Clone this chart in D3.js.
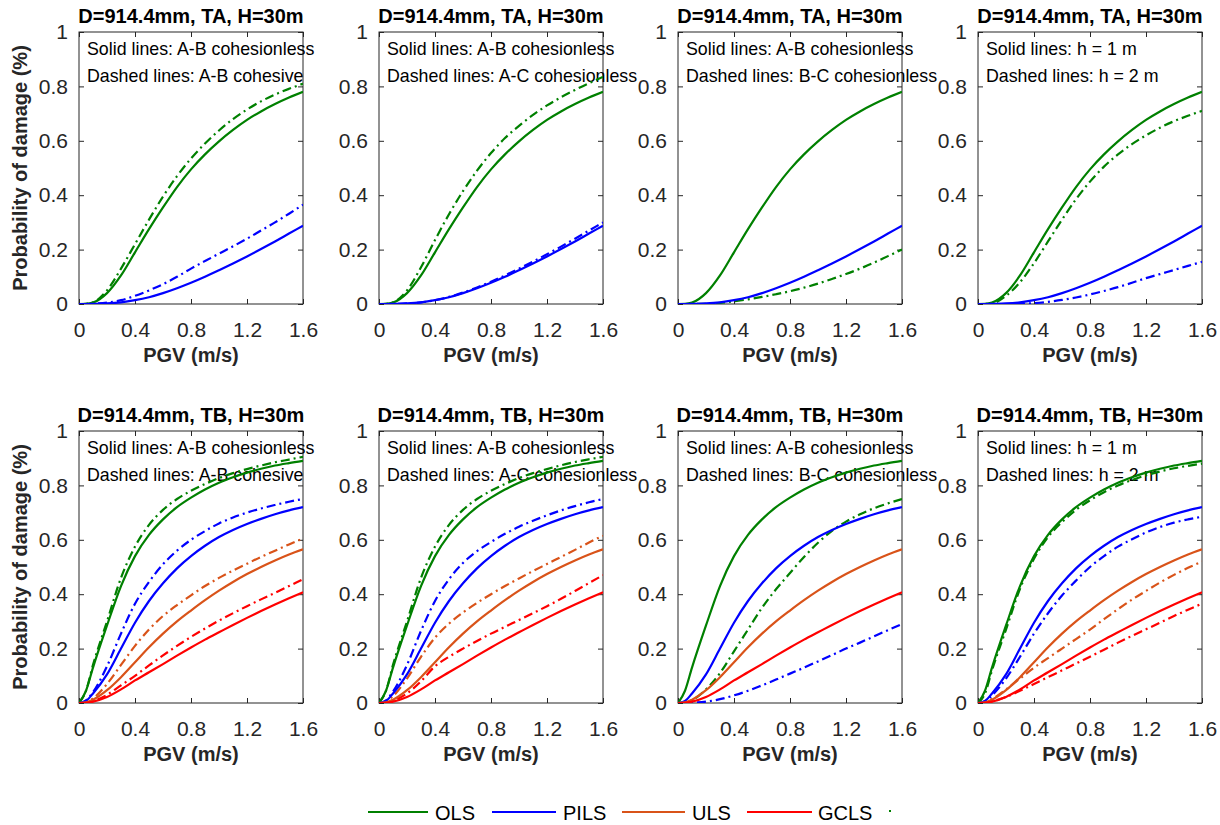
<!DOCTYPE html>
<html>
<head>
<meta charset="utf-8">
<script src="https://cdn.jsdelivr.net/npm/d3@7"></script>
<style>
  html, body { margin: 0; padding: 0; background: #fff; }
  svg { display: block; font-family: "Liberation Sans", Arial, Helvetica, sans-serif; }
</style>
</head>
<body>
<svg id="chart" width="1220" height="825"></svg>
<script>
// ---------------- DATA ----------------
const pgv = [0, 0.05, 0.1, 0.2, 0.3, 0.4, 0.5, 0.6, 0.7, 0.8, 0.9, 1.0, 1.1, 1.2, 1.3, 1.4, 1.5, 1.6];

const xTicks = [0, 0.4, 0.8, 1.2, 1.6];
const xTickLabels = ["0", "0.4", "0.8", "1.2", "1.6"];
const yTicks = [0, 0.2, 0.4, 0.6, 0.8, 1];
const yTickLabels = ["0", "0.2", "0.4", "0.6", "0.8", "1"];

const damageStates = ["OLS", "PILS", "ULS", "GCLS"];

// Top row (TA) - solid lines: A-B cohesionless / h = 1 m
const taOLS_solid  = [0, 0.0005, 0.005, 0.04, 0.105, 0.19, 0.275, 0.355, 0.43, 0.495, 0.55, 0.598, 0.64, 0.677, 0.708, 0.735, 0.759, 0.78];
const taPILS_solid = [0, 0, 0.0005, 0.002, 0.006, 0.014, 0.025, 0.04, 0.058, 0.078, 0.10, 0.124, 0.149, 0.175, 0.202, 0.23, 0.259, 0.288];
// Top row dashed lines
const taOLS_ABcoh  = [0, 0.001, 0.006, 0.05, 0.13, 0.22, 0.31, 0.395, 0.47, 0.535, 0.59, 0.638, 0.68, 0.715, 0.745, 0.77, 0.791, 0.81];
const taPILS_ABcoh = [0, 0, 0.001, 0.005, 0.014, 0.03, 0.05, 0.073, 0.10, 0.13, 0.158, 0.185, 0.212, 0.24, 0.27, 0.30, 0.332, 0.365];
const taOLS_AC     = [0, 0.001, 0.006, 0.05, 0.135, 0.235, 0.33, 0.415, 0.49, 0.555, 0.61, 0.655, 0.695, 0.73, 0.76, 0.787, 0.812, 0.835];
const taPILS_AC    = [0, 0, 0.0005, 0.002, 0.006, 0.014, 0.026, 0.042, 0.061, 0.082, 0.105, 0.13, 0.156, 0.183, 0.211, 0.24, 0.27, 0.30];
const taOLS_BC     = [0, 0, 0, 0.001, 0.004, 0.01, 0.017, 0.026, 0.036, 0.047, 0.06, 0.075, 0.092, 0.11, 0.13, 0.152, 0.176, 0.20];
const taOLS_h2     = [0, 0, 0.002, 0.03, 0.08, 0.15, 0.23, 0.31, 0.385, 0.45, 0.505, 0.55, 0.588, 0.62, 0.648, 0.672, 0.692, 0.71];
const taPILS_h2    = [0, 0, 0, 0, 0.001, 0.003, 0.008, 0.015, 0.024, 0.035, 0.048, 0.062, 0.078, 0.095, 0.11, 0.125, 0.14, 0.155];

// Bottom row (TB) - solid lines: A-B cohesionless / h = 1 m
const tbOLS_solid  = [0, 0.045, 0.13, 0.285, 0.43, 0.54, 0.618, 0.675, 0.72, 0.755, 0.785, 0.81, 0.83, 0.847, 0.861, 0.873, 0.882, 0.89];
const tbPILS_solid = [0, 0.008, 0.035, 0.105, 0.2, 0.295, 0.375, 0.44, 0.495, 0.54, 0.578, 0.61, 0.636, 0.658, 0.677, 0.694, 0.708, 0.72];
const tbULS_solid  = [0, 0.002, 0.012, 0.047, 0.095, 0.15, 0.205, 0.255, 0.30, 0.34, 0.378, 0.413, 0.445, 0.474, 0.50, 0.524, 0.546, 0.565];
const tbGCLS_solid = [0, 0.001, 0.005, 0.022, 0.05, 0.083, 0.113, 0.143, 0.174, 0.204, 0.233, 0.26, 0.287, 0.313, 0.338, 0.362, 0.385, 0.407];
// Bottom row dashed lines
const tbOLS_ABcoh  = [0, 0.045, 0.14, 0.30, 0.46, 0.575, 0.655, 0.71, 0.75, 0.78, 0.805, 0.827, 0.845, 0.86, 0.873, 0.885, 0.895, 0.905];
const tbPILS_ABcoh = [0, 0.01, 0.04, 0.135, 0.255, 0.365, 0.445, 0.51, 0.56, 0.60, 0.632, 0.66, 0.682, 0.7, 0.715, 0.728, 0.74, 0.75];
const tbULS_ABcoh  = [0, 0.003, 0.017, 0.07, 0.14, 0.21, 0.27, 0.32, 0.36, 0.396, 0.43, 0.46, 0.487, 0.512, 0.537, 0.56, 0.583, 0.605];
const tbGCLS_ABcoh = [0, 0.001, 0.007, 0.03, 0.065, 0.10, 0.138, 0.175, 0.21, 0.243, 0.274, 0.303, 0.33, 0.356, 0.381, 0.405, 0.43, 0.455];
const tbOLS_AC     = [0, 0.045, 0.14, 0.30, 0.46, 0.575, 0.655, 0.71, 0.75, 0.78, 0.805, 0.827, 0.845, 0.86, 0.874, 0.886, 0.896, 0.905];
const tbPILS_AC    = [0, 0.01, 0.042, 0.14, 0.265, 0.375, 0.455, 0.515, 0.558, 0.592, 0.622, 0.648, 0.67, 0.69, 0.708, 0.724, 0.738, 0.75];
const tbULS_AC     = [0, 0.005, 0.025, 0.09, 0.17, 0.24, 0.292, 0.333, 0.368, 0.40, 0.43, 0.458, 0.485, 0.511, 0.537, 0.563, 0.59, 0.615];
const tbGCLS_AC    = [0, 0.001, 0.008, 0.035, 0.08, 0.135, 0.17, 0.20, 0.228, 0.255, 0.28, 0.305, 0.33, 0.356, 0.383, 0.412, 0.441, 0.47];
const tbOLS_BC     = [0, 0.002, 0.01, 0.05, 0.11, 0.19, 0.27, 0.35, 0.418, 0.478, 0.537, 0.589, 0.633, 0.667, 0.694, 0.716, 0.734, 0.75];
const tbPILS_BC    = [0, 0, 0.001, 0.005, 0.014, 0.028, 0.045, 0.065, 0.086, 0.108, 0.13, 0.153, 0.176, 0.2, 0.222, 0.245, 0.268, 0.29];
const tbOLS_h2     = [0, 0.035, 0.12, 0.27, 0.42, 0.53, 0.61, 0.665, 0.71, 0.745, 0.775, 0.80, 0.82, 0.837, 0.851, 0.863, 0.872, 0.88];
const tbPILS_h2    = [0, 0.006, 0.028, 0.09, 0.17, 0.255, 0.33, 0.395, 0.45, 0.50, 0.54, 0.575, 0.602, 0.627, 0.647, 0.663, 0.675, 0.685];
const tbULS_h2     = [0, 0.004, 0.015, 0.05, 0.09, 0.13, 0.165, 0.20, 0.235, 0.27, 0.308, 0.345, 0.38, 0.412, 0.443, 0.471, 0.497, 0.52];
const tbGCLS_h2    = [0, 0.001, 0.006, 0.022, 0.045, 0.07, 0.095, 0.12, 0.145, 0.17, 0.196, 0.222, 0.247, 0.271, 0.295, 0.32, 0.343, 0.365];

const titlesTop = ["D=914.4mm, TA, H=30m", "D=914.4mm, TA, H=30m", "D=914.4mm, TA, H=30m", "D=914.4mm, TA, H=30m"];
const titlesBottom = ["D=914.4mm, TB, H=30m", "D=914.4mm, TB, H=30m", "D=914.4mm, TB, H=30m", "D=914.4mm, TB, H=30m"];
const notesSolid = ["Solid lines: A-B cohesionless", "Solid lines: A-B cohesionless", "Solid lines: A-B cohesionless", "Solid lines: h = 1 m"];
const notesDashed = ["Dashed lines: A-B cohesive", "Dashed lines: A-C cohesionless", "Dashed lines: B-C cohesionless", "Dashed lines:  h = 2 m"];

// ---------------- STYLE / LAYOUT ----------------
const colors = { OLS: "#008000", PILS: "#0000ff", ULS: "#d95319", GCLS: "#ff0000" };
const lefts = [79, 379, 678, 978];
const tops = [32, 431];
const pw = 224, ph = 272;
const dashPattern = "9,4,2,4";
const axisColor = "#262626";
const lineW = 2.2;

const panels = [];
const topSolid = [{ s: "OLS", v: taOLS_solid }, { s: "PILS", v: taPILS_solid }];
const topDashed = [
  [{ s: "OLS", v: taOLS_ABcoh }, { s: "PILS", v: taPILS_ABcoh }],
  [{ s: "OLS", v: taOLS_AC }, { s: "PILS", v: taPILS_AC }],
  [{ s: "OLS", v: taOLS_BC }],
  [{ s: "OLS", v: taOLS_h2 }, { s: "PILS", v: taPILS_h2 }]
];
const botSolid = [{ s: "OLS", v: tbOLS_solid }, { s: "PILS", v: tbPILS_solid }, { s: "ULS", v: tbULS_solid }, { s: "GCLS", v: tbGCLS_solid }];
const botDashed = [
  [{ s: "OLS", v: tbOLS_ABcoh }, { s: "PILS", v: tbPILS_ABcoh }, { s: "ULS", v: tbULS_ABcoh }, { s: "GCLS", v: tbGCLS_ABcoh }],
  [{ s: "OLS", v: tbOLS_AC }, { s: "PILS", v: tbPILS_AC }, { s: "ULS", v: tbULS_AC }, { s: "GCLS", v: tbGCLS_AC }],
  [{ s: "OLS", v: tbOLS_BC }, { s: "PILS", v: tbPILS_BC }],
  [{ s: "OLS", v: tbOLS_h2 }, { s: "PILS", v: tbPILS_h2 }, { s: "ULS", v: tbULS_h2 }, { s: "GCLS", v: tbGCLS_h2 }]
];
for (let c = 0; c < 4; c++) panels.push({ row: 0, col: c, title: titlesTop[c], solid: topSolid, dashed: topDashed[c] });
for (let c = 0; c < 4; c++) panels.push({ row: 1, col: c, title: titlesBottom[c], solid: botSolid, dashed: botDashed[c] });

const svg = d3.select("#chart");
const defs = svg.append("defs");

panels.forEach((p, i) => {
  const x0 = lefts[p.col], y0 = tops[p.row];
  const x = d3.scaleLinear().domain([0, 1.6]).range([x0, x0 + pw]);
  const y = d3.scaleLinear().domain([0, 1]).range([y0 + ph, y0]);
  const g = svg.append("g");

  defs.append("clipPath").attr("id", "clip" + i)
    .append("rect").attr("x", x0).attr("y", y0).attr("width", pw).attr("height", ph);

  const tickLen = 5;
  g.append("g").attr("transform", `translate(0,${y0 + ph})`)
    .call(d3.axisBottom(x).tickValues(xTicks).tickFormat((d, k) => xTickLabels[k])
      .tickSizeInner(-tickLen).tickSizeOuter(0).tickPadding(18))
    .call(a => a.select(".domain").remove())
    .call(a => a.selectAll("text").attr("font-size", 21).attr("fill", axisColor).attr("font-family", null))
    .call(a => a.selectAll("line").attr("stroke", axisColor));
  g.append("g").attr("transform", `translate(0,${y0})`)
    .call(d3.axisTop(x).tickValues(xTicks).tickFormat("")
      .tickSizeInner(-tickLen).tickSizeOuter(0))
    .call(a => a.select(".domain").remove())
    .call(a => a.selectAll("line").attr("stroke", axisColor));
  g.append("g").attr("transform", `translate(${x0},0)`)
    .call(d3.axisLeft(y).tickValues(yTicks).tickFormat((d, k) => yTickLabels[k])
      .tickSizeInner(-tickLen).tickSizeOuter(0).tickPadding(11))
    .call(a => a.select(".domain").remove())
    .call(a => a.selectAll("text").attr("font-size", 21).attr("fill", axisColor).attr("font-family", null))
    .call(a => a.selectAll("line").attr("stroke", axisColor));
  g.append("g").attr("transform", `translate(${x0 + pw},0)`)
    .call(d3.axisRight(y).tickValues(yTicks).tickFormat("")
      .tickSizeInner(-tickLen).tickSizeOuter(0))
    .call(a => a.select(".domain").remove())
    .call(a => a.selectAll("line").attr("stroke", axisColor));

  g.append("rect").attr("x", x0).attr("y", y0).attr("width", pw).attr("height", ph)
    .attr("fill", "none").attr("stroke", axisColor).attr("stroke-width", 1);

  g.append("text").attr("x", x0 + 8).attr("y", y0 + 22.5)
    .attr("font-size", 17.8).attr("fill", "#000").text(notesSolid[p.col]);
  g.append("text").attr("x", x0 + 8).attr("y", y0 + 50)
    .attr("font-size", 17.8).attr("fill", "#000").text(notesDashed[p.col]);

  const line = d3.line().x((d, k) => x(pgv[k])).y(d => y(d)).curve(d3.curveMonotoneX);
  const lg = g.append("g").attr("clip-path", `url(#clip${i})`);
  p.dashed.forEach(sr => {
    lg.append("path").datum(sr.v).attr("d", line)
      .attr("fill", "none").attr("stroke", colors[sr.s]).attr("stroke-width", lineW)
      .attr("stroke-dasharray", dashPattern);
  });
  p.solid.forEach(sr => {
    lg.append("path").datum(sr.v).attr("d", line)
      .attr("fill", "none").attr("stroke", colors[sr.s]).attr("stroke-width", lineW);
  });

  g.append("text").attr("x", x0 + pw / 2).attr("y", y0 - 8.7)
    .attr("text-anchor", "middle").attr("font-size", 20).attr("font-weight", "bold")
    .attr("fill", "#000").text(p.title);

  g.append("text").attr("x", x0 + pw / 2).attr("y", y0 + ph + 58)
    .attr("text-anchor", "middle").attr("font-size", 20).attr("font-weight", "bold")
    .attr("fill", axisColor).text("PGV (m/s)");

  if (p.col === 0) {
    g.append("text")
      .attr("transform", `translate(27,${y0 + ph / 2}) rotate(-90)`)
      .attr("text-anchor", "middle").attr("font-size", 20).attr("font-weight", "bold")
      .attr("fill", axisColor).text("Probability of damage (%)");
  }
});

// legend
const legendY = 812;
const legendItems = [
  { s: "OLS", x1: 368, x2: 428, tx: 435 },
  { s: "PILS", x1: 492, x2: 556, tx: 563 },
  { s: "ULS", x1: 622, x2: 685, tx: 692 },
  { s: "GCLS", x1: 747, x2: 812, tx: 818 }
];
const lgd = svg.append("g");
legendItems.forEach(it => {
  lgd.append("line").attr("x1", it.x1).attr("x2", it.x2).attr("y1", legendY).attr("y2", legendY)
    .attr("stroke", colors[it.s]).attr("stroke-width", lineW);
  lgd.append("text").attr("x", it.tx).attr("y", legendY + 8).attr("font-size", 20)
    .attr("fill", "#000").text(it.s);
});
lgd.append("line").attr("x1", 889).attr("x2", 891).attr("y1", legendY - 1).attr("y2", legendY - 1)
  .attr("stroke", colors.OLS).attr("stroke-width", 2);
</script>
</body>
</html>
